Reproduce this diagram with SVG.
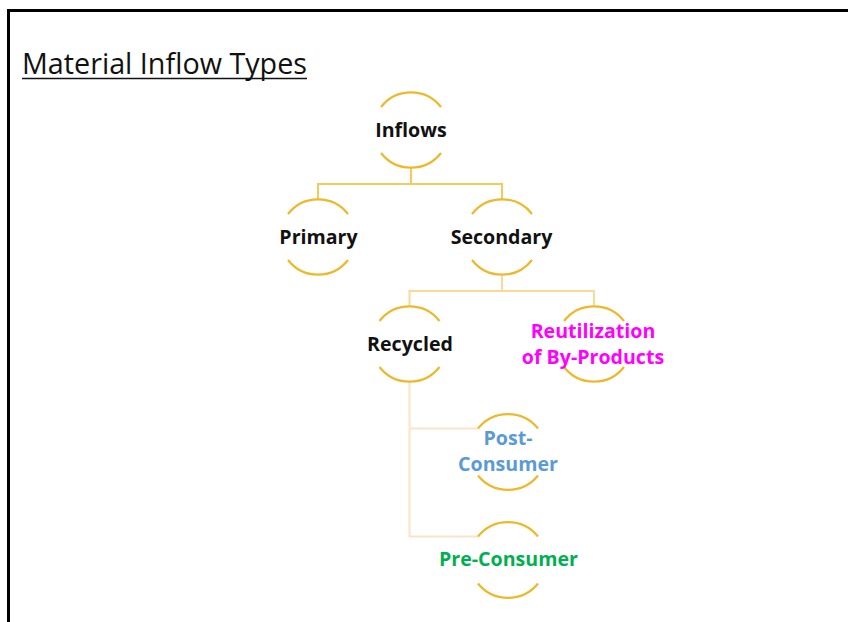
<svg xmlns="http://www.w3.org/2000/svg" width="848" height="622" viewBox="0 0 848 622">
  <style>
    .frame { fill: none; stroke: #000; stroke-width: 3; }
    .title { font-family: "Open Sans", "Liberation Sans", sans-serif; font-size: 28.5px; fill: #111; }
    .ring { fill: none; stroke: #EDB92A; stroke-width: 2.2; }
    .label { font-family: "Open Sans", "Liberation Sans", sans-serif; font-weight: 700; font-size: 19.6px; text-anchor: middle; }
    .c1 { fill: none; stroke: #F5C95A; stroke-width: 2; }
    .c2 { fill: none; stroke: #F9D995; stroke-width: 2; }
    .c3 { fill: none; stroke: #FDE3C3; stroke-width: 2; }
  </style>

  <rect width="848" height="622" fill="#fff"/>
  <rect class="frame" x="8.5" y="10.5" width="852" height="622"/>

  <!-- heading -->
  <text class="title" x="22" y="74" textLength="285" lengthAdjust="spacingAndGlyphs">Material Inflow Types</text>
  <line x1="22" y1="78.5" x2="307" y2="78.5" stroke="#111" stroke-width="1.6"/>

  <!-- connectors -->
  <g id="connectors">
    <line class="c1" x1="411" y1="168" x2="411" y2="184" stroke-width="3"/>
    <path class="c1" d="M318 199 V184 H502 V199"/>
    <line class="c2" x1="502" y1="276" x2="502" y2="291"/>
    <path class="c2" d="M409.5 306 V291 H594 V306"/>
    <path class="c3" d="M409.5 382 V536.5 H478 M409.5 428.5 H478"/>
  </g>

  <!-- nodes: open rings with top and bottom arcs -->
  <g id="node-inflows">
    <path class="ring" d="M381 107 A38 38 0 0 1 441 107 M381 153 A38 38 0 0 0 441 153"/>
    <text class="label" x="411" y="137" fill="#111">Inflows</text>
  </g>

  <g id="node-primary">
    <path class="ring" d="M288 214 A38 38 0 0 1 348 214 M288 260 A38 38 0 0 0 348 260"/>
    <text class="label" x="318.5" y="244" fill="#111">Primary</text>
  </g>

  <g id="node-secondary">
    <path class="ring" d="M472 214 A38 38 0 0 1 532 214 M472 260 A38 38 0 0 0 532 260"/>
    <text class="label" x="501.5" y="244" fill="#111">Secondary</text>
  </g>

  <g id="node-recycled">
    <path class="ring" d="M379.5 321 A38 38 0 0 1 439.5 321 M379.5 367 A38 38 0 0 0 439.5 367"/>
    <text class="label" x="410" y="351" fill="#111">Recycled</text>
  </g>

  <g id="node-reutilization">
    <path class="ring" d="M564 321 A38 38 0 0 1 624 321 M564 367 A38 38 0 0 0 624 367"/>
    <text class="label" x="593" y="338" fill="#FF00FF">Reutilization</text>
    <text class="label" x="593" y="364" fill="#FF00FF">of By-Products</text>
  </g>

  <g id="node-post-consumer">
    <path class="ring" d="M478 428.5 A38.5 38.5 0 0 1 538 428.5 M478 475.5 A38.5 38.5 0 0 0 538 475.5"/>
    <text class="label" x="508" y="445" fill="#5B9BD5">Post-</text>
    <text class="label" x="508" y="471" fill="#5B9BD5">Consumer</text>
  </g>

  <g id="node-pre-consumer">
    <path class="ring" d="M478 536.5 A38.5 38.5 0 0 1 538 536.5 M478 583.5 A38.5 38.5 0 0 0 538 583.5"/>
    <text class="label" x="508.5" y="566" fill="#00B050">Pre-Consumer</text>
  </g>
</svg>
